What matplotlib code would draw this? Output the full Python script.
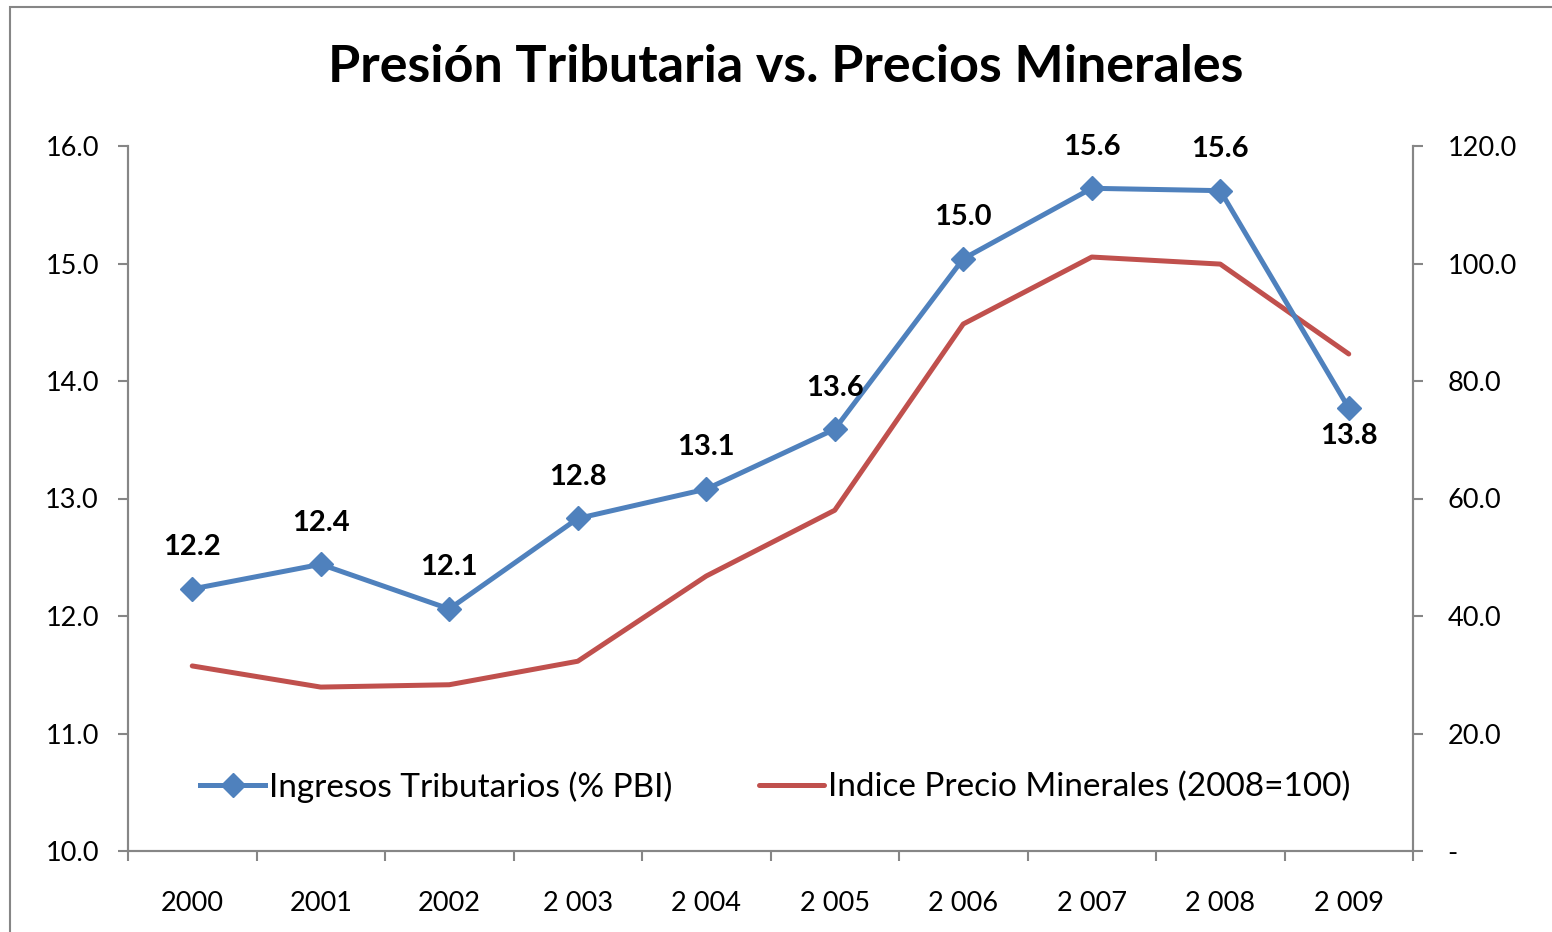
import matplotlib
matplotlib.use("Agg")
import matplotlib.pyplot as plt
import numpy as np
from matplotlib.patches import Rectangle
from matplotlib.ticker import FixedLocator, FuncFormatter

years = ["2000", "2001", "2002", "2 003", "2 004", "2 005", "2 006", "2 007", "2 008", "2 009"]
ingresos = [12.23, 12.44, 12.06, 12.83, 13.08, 13.59, 15.04, 15.64, 15.62, 13.77]
precios = [31.5, 27.9, 28.3, 32.3, 46.8, 58.0, 89.7, 101.1, 99.9, 84.6]
label_below = [False] * 9 + [True]

BLUE = "#4F81BD"
RED = "#C0504D"
GRAY = "#868686"

plt.rcParams.update({
    "font.family": ["Lato", "DejaVu Sans"],
    "font.size": 19.5,
})

fig = plt.figure(figsize=(15.52, 9.32), dpi=100)
fig.patches.append(Rectangle((10 / 1552, -0.1), 1.2, 1 - 7 / 932 + 0.1,
                             transform=fig.transFigure, fill=False,
                             edgecolor=GRAY, linewidth=1.5))

ax = fig.add_axes([128 / 1552, 1 - 851 / 932, (1413 - 128) / 1552, (851 - 146) / 932])
ax2 = ax.twinx()

x = np.arange(len(years))
ax2.plot(x, precios, color=RED, linewidth=3.6, solid_capstyle="round",
         label="Indice Precio Minerales (2008=100)", zorder=2)
ax.plot(x, ingresos, color=BLUE, linewidth=3.6, marker="D", markersize=12,
        label="Ingresos Tributarios (% PBI)", zorder=3)
ax.set_zorder(ax2.get_zorder() + 1)
ax.patch.set_visible(False)

for xi, v, below in zip(x, ingresos, label_below):
    ax.annotate(f"{v:.1f}", (xi, v), xytext=(0, -20 if below else 30),
                textcoords="offset points", ha="center", va="center",
                fontsize=21, fontweight="bold")

ax.set_xlim(-0.5, len(years) - 0.5)
ax.set_ylim(10, 16)
ax2.set_ylim(0, 120)
ax.set_yticks(np.arange(10, 16.1, 1))
ax.yaxis.set_major_formatter(FuncFormatter(lambda v, p: f"{v:.1f}"))
ax2.set_yticks(np.arange(0, 121, 20))
ax2.yaxis.set_major_formatter(FuncFormatter(lambda v, p: "-" if v == 0 else f"{v:.1f}"))

ax.set_xticks(x)
ax.set_xticklabels(years)
ax.xaxis.set_minor_locator(FixedLocator(np.arange(-0.5, len(years), 1)))
ax.tick_params(axis="x", which="major", length=0, pad=29)
ax.tick_params(axis="x", which="minor", length=7, width=1.5, color=GRAY)
ax.tick_params(axis="y", length=7, width=1.5, color=GRAY, pad=14)
ax2.tick_params(axis="y", length=7, width=1.5, color=GRAY, pad=18)

for a in (ax, ax2):
    a.spines["top"].set_visible(False)
    for s in ("left", "right", "bottom"):
        a.spines[s].set_color(GRAY)
        a.spines[s].set_linewidth(1.5)

fig.text(786 / 1552, 1 - 68 / 932, "Presión Tributaria vs. Precios Minerales",
         ha="center", va="center", fontsize=37.5, fontweight="bold")

h1, l1 = ax.get_legend_handles_labels()
h2, l2 = ax2.get_legend_handles_labels()
ax.legend(h1 + h2, l1 + l2, loc="center", bbox_to_anchor=(0.504, 0.091), ncol=2,
          frameon=False, fontsize=24, handlelength=1.95, handletextpad=0.12,
          columnspacing=2.6)

fig.savefig("out.png", dpi=100)
